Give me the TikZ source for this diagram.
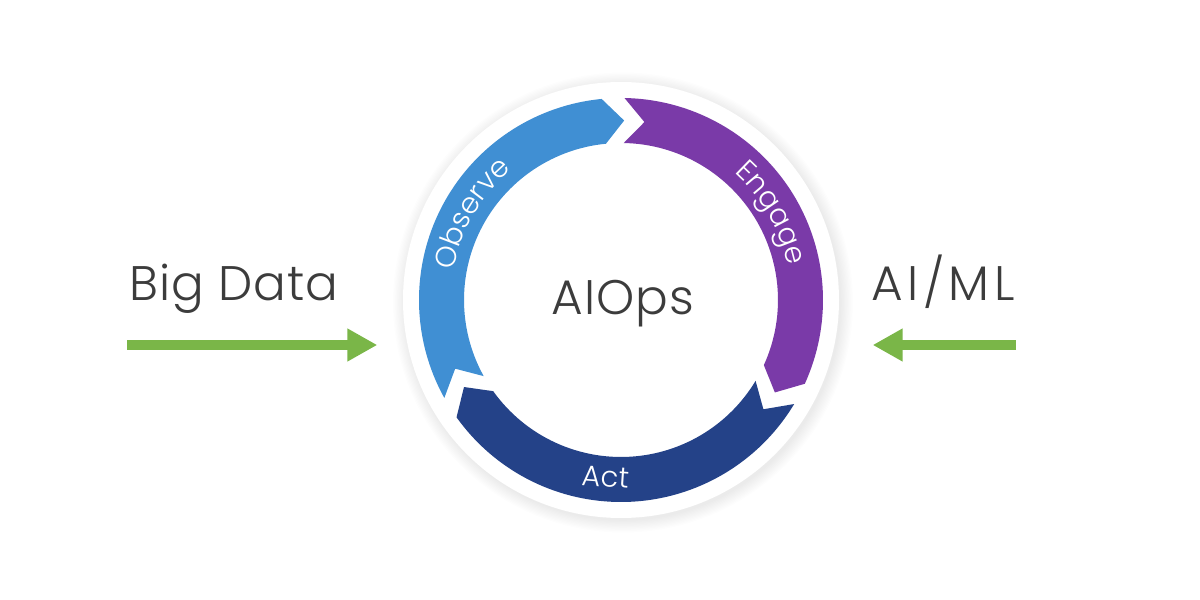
\documentclass[tikz,border=0pt]{standalone}
\usepackage{fontspec}
\setmainfont{Poppins}[UprightFont=* Light]
\usetikzlibrary{arrows.meta,decorations.text}
\definecolor{observeblue}{RGB}{64,143,211}
\definecolor{engagepurple}{RGB}{122,58,168}
\definecolor{actnavy}{RGB}{36,66,136}
\definecolor{feedgreen}{RGB}{122,182,72}
\definecolor{textgray}{RGB}{60,60,60}
\newcommand{\outerradius}{2.02}
\newcommand{\innerradius}{1.57}
\newcommand{\midradius}{1.795}
\newcommand{\tipangle}{6.5}
\newcommand{\labelfont}{\fontsize{8.2}{10}\selectfont\color{white}}
% tail angle, head angle, colour
\newcommand{\cyclearrow}[3]{%
    \fill[#3] (#1:\outerradius) arc[start angle=#1, end angle=#2, radius=\outerradius]
        -- (#2-\tipangle:\midradius) -- (#2:\innerradius)
        arc[start angle=#2, end angle=#1, radius=\innerradius]
        -- (#1-\tipangle:\midradius) -- cycle;
}
\tikzset{
    bigtext/.style={font=\fontsize{13.8}{16}\selectfont, text=textgray, inner sep=0pt},
    feed/.style={feedgreen, line width=2.7pt, -{Triangle[length=0.3cm, width=0.31cm]}},
    ringlabel/.style={decorate, decoration={text along path, text align=center}}
}
\begin{document}
\begin{tikzpicture}
    \useasboundingbox (0,0) rectangle (12,6);
    \coordinate (hub) at (6.21,3.0);

    % soft shadow round the disk
    \foreach \s in {1,...,10}
        \fill[black, opacity=0.007] ([shift={(0.02,-0.025)}]hub) circle[radius=2.17+\s*0.013];
    \node[circle, fill=white, minimum size=4.36cm, inner sep=0pt] (disk) at (hub) {};

    \begin{scope}[shift={(hub)}]
        \cyclearrow{209}{95.5}{observeblue}
        \cyclearrow{89}{-24.5}{engagepurple}
        \cyclearrow{-31}{-144.5}{actnavy}

        \path[ringlabel, decoration={text={|\labelfont|Observe}}]
            (200:1.70) arc[start angle=200, end angle=100, radius=1.70];
        \path[ringlabel, decoration={text={|\labelfont|Engage}}]
            (80:1.70) arc[start angle=80, end angle=-20, radius=1.70];
    \end{scope}
    \node[font=\labelfont, inner sep=0pt, anchor=base, rotate=-4] (act) at (6.05,1.13) {Act};

    \node[bigtext, anchor=base] (aiops) at (6.23,2.85) {\addfontfeature{LetterSpace=2}AIOps};
    \node[bigtext, anchor=base west] (bigdata) at (1.29,3.0) {\addfontfeature{LetterSpace=2}Big Data};
    \node[bigtext, anchor=base west] (aiml) at (8.71,3.0) {\addfontfeature{LetterSpace=9}AI/ML};

    \coordinate (bigtail) at (1.27,2.55);
    \coordinate (aitail) at (10.16,2.55);
    \draw[feed, shorten >=0.25cm] (bigtail) -- (disk.west |- bigtail);
    \draw[feed, shorten >=0.33cm] (aitail) -- (disk.east |- aitail);
\end{tikzpicture}
\end{document}
